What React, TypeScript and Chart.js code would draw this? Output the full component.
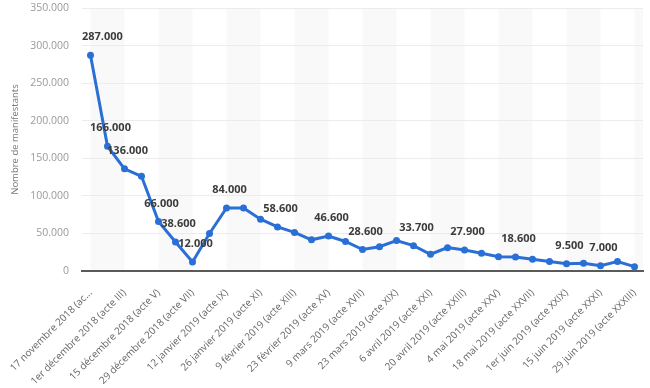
import React, { useEffect, useRef } from "react";
import { Chart, registerables } from "chart.js";

Chart.register(...registerables);

const categories = [
  "17 novembre 2018 (acte I)",
  "24 novembre 2018 (acte II)",
  "1er décembre 2018 (acte III)",
  "8 décembre 2018 (acte IV)",
  "15 décembre 2018 (acte V)",
  "22 décembre 2018 (acte VI)",
  "29 décembre 2018 (acte VII)",
  "5 janvier 2019 (acte VIII)",
  "12 janvier 2019 (acte IX)",
  "19 janvier 2019 (acte X)",
  "26 janvier 2019 (acte XI)",
  "2 février 2019 (acte XII)",
  "9 février 2019 (acte XIII)",
  "16 février 2019 (acte XIV)",
  "23 février 2019 (acte XV)",
  "2 mars 2019 (acte XVI)",
  "9 mars 2019 (acte XVII)",
  "16 mars 2019 (acte XVIII)",
  "23 mars 2019 (acte XIX)",
  "30 mars 2019 (acte XX)",
  "6 avril 2019 (acte XXI)",
  "13 avril 2019 (acte XXII)",
  "20 avril 2019 (acte XXIII)",
  "27 avril 2019 (acte XXIV)",
  "4 mai 2019 (acte XXV)",
  "11 mai 2019 (acte XXVI)",
  "18 mai 2019 (acte XXVII)",
  "25 mai 2019 (acte XXVIII)",
  "1er juin 2019 (acte XXIX)",
  "8 juin 2019 (acte XXX)",
  "15 juin 2019 (acte XXXI)",
  "22 juin 2019 (acte XXXII)",
  "29 juin 2019 (acte XXXIII)",
];

const manifestants = [
  287000, 166000, 136000, 126000, 66000, 38600, 12000, 50000, 84000, 84000,
  69000, 58600, 51400, 41500, 46600, 39300, 28600, 32300, 40500, 33700,
  22300, 31100, 27900, 23600, 18900, 18600, 15500, 12500, 9500, 10300,
  7000, 12500, 5800,
];

// indices of points that carry a value label
const labelledPoints = [0, 1, 2, 4, 5, 6, 8, 11, 14, 16, 19, 22, 25, 28, 30];

// shortened tick texts (as displayed)
const shortTicks: Record<number, string> = { 0: "17 novembre 2018 (ac..." };

const yTicks = [0, 50000, 100000, 150000, 200000, 250000, 300000, 350000];

const yTitle = "Nombre de manifestants";

const fmt = (v: number) =>
  String(Math.round(v)).replace(/\B(?=(\d{3})+(?!\d))/g, ".");

const FONT = "'Open Sans', 'Noto Sans', sans-serif";

const bandsPlugin = {
  id: "bands",
  beforeDraw(chart: any) {
    const { ctx, chartArea, scales } = chart;
    const x = scales.x;
    ctx.save();
    ctx.beginPath();
    ctx.rect(chartArea.left, chartArea.top, chartArea.right - chartArea.left, chartArea.bottom - chartArea.top);
    ctx.clip();
    ctx.fillStyle = "#f9f9fa";
    for (let i = 0; i < categories.length; i += 4) {
      const x0 = x.getPixelForValue(i);
      const x1 = i + 2 < categories.length ? x.getPixelForValue(i + 2) : chartArea.right;
      ctx.fillRect(x0, chartArea.top, x1 - x0, chartArea.bottom - chartArea.top);
    }
    ctx.restore();
  },
};

const labelsPlugin = {
  id: "valueLabels",
  afterDatasetsDraw(chart: any) {
    const { ctx, chartArea } = chart;
    const meta = chart.getDatasetMeta(0);
    ctx.save();
    ctx.font = `bold 11px ${FONT}`;
    ctx.fillStyle = "#3c3c3c";
    ctx.textBaseline = "middle";
    ctx.textAlign = "left";
    labelledPoints.forEach((i) => {
      const pt = meta.data[i];
      if (!pt) return;
      const text = fmt(manifestants[i]);
      const w = ctx.measureText(text).width;
      let left = pt.x + 3 - w / 2;
      if (left < chartArea.left) left = chartArea.left;
      ctx.fillText(text, left, pt.y - 18);
    });
    ctx.restore();
  },
};

export default function App() {
  const ref = useRef<HTMLCanvasElement>(null);
  useEffect(() => {
    if (!ref.current) return;
    const chart = new Chart(ref.current, {
      type: "line",
      data: {
        labels: categories,
        datasets: [
          {
            data: manifestants,
            borderColor: "#2a6fd6",
            backgroundColor: "#2a6fd6",
            borderWidth: 3,
            pointRadius: 3.5,
            pointHoverRadius: 3.5,
            pointBorderWidth: 0,
            tension: 0,
            fill: false,
          },
        ],
      },
      options: {
        animation: false,
        responsive: false,
        maintainAspectRatio: false,
        layout: { padding: { top: 8, right: 7, left: 0, bottom: 0 } },
        plugins: {
          legend: { display: false },
          tooltip: { enabled: false },
        },
        scales: {
          x: {
            offset: true,
            grid: { display: false, drawTicks: false },
            border: { display: true, color: "#5a5a5a", width: 2 },
            afterFit(scale: any) {
              scale.height = 117;
              scale.paddingLeft = 0;
              scale.paddingRight = 0;
            },
            ticks: {
              autoSkip: false,
              minRotation: 45,
              maxRotation: 45,
              padding: 16,
              color: "#666666",
              font: { family: FONT, size: 10 },
              callback(_v: any, index: number) {
                if (index % 2 !== 0) return "";
                return shortTicks[index] ?? categories[index];
              },
            },
          },
          y: {
            min: 0,
            max: 350000,
            afterBuildTicks(scale: any) {
              scale.ticks = yTicks.map((v) => ({ value: v }));
            },
            afterFit(scale: any) {
              scale.width = 82;
              scale.paddingTop = 0;
              scale.paddingBottom = 0;
            },
            grid: { color: "#ececec", drawTicks: false, lineWidth: 1 },
            border: { display: false },
            title: {
              display: true,
              text: yTitle,
              color: "#777777",
              font: { family: FONT, size: 9.5 },
              padding: { top: 10, bottom: 0 },
            },
            ticks: {
              padding: 13,
              color: "#9a9a9a",
              font: { family: FONT, size: 10.5 },
              callback: (v: any) => fmt(Number(v)),
            },
          },
        },
      },
      plugins: [bandsPlugin, labelsPlugin],
    });
    return () => chart.destroy();
  }, []);
  return (
    <div style={{ position: "fixed", left: 0, top: 0, width: 650, height: 388, background: "#fff" }}>
      <canvas ref={ref} width={650} height={388} style={{ width: 650, height: 388 }} />
    </div>
  );
}
